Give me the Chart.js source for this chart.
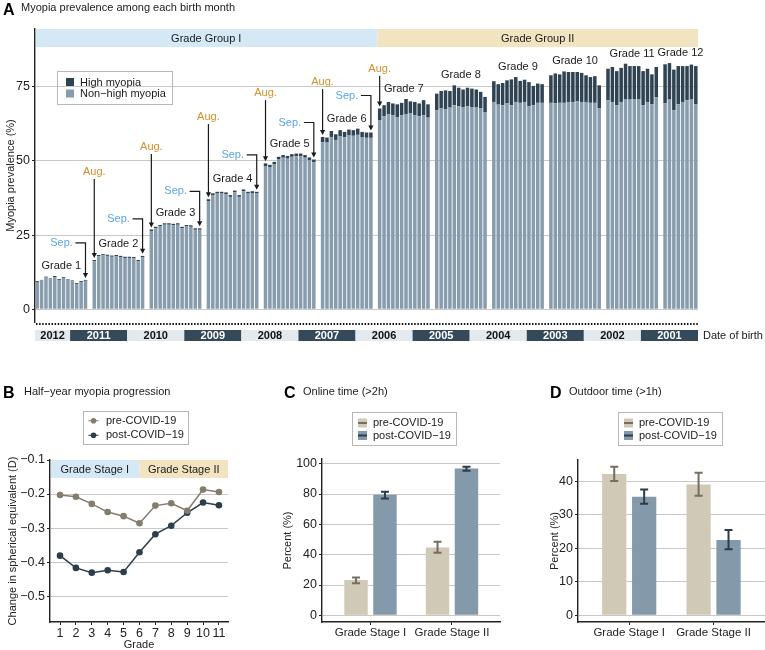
<!DOCTYPE html>
<html>
<head>
<meta charset="utf-8">
<title>Myopia prevalence</title>
<script src="https://cdn.jsdelivr.net/npm/chart.js@4.4.1/dist/chart.umd.min.js"></script>
<style>
  html, body { margin: 0; padding: 0; background: #fff; }
  #wrap { position: relative; width: 765px; height: 650px; overflow: hidden; }
  canvas { position: absolute; }
</style>
</head>
<body>
<div id="wrap">
  <canvas id="prevalence" width="765" height="352" style="left:0px;top:0px"></canvas>
  <canvas id="progression" width="255" height="298" style="left:0px;top:352px"></canvas>
  <canvas id="online" width="255" height="298" style="left:255px;top:352px"></canvas>
  <canvas id="outdoor" width="255" height="298" style="left:510px;top:352px"></canvas>
</div>
<script>
var FONT = "'Liberation Sans', Arial, Helvetica, sans-serif";
Chart.defaults.font.family = FONT;
Chart.defaults.color = "#222";

// ---- A: prevalence per birth month (each grade: Aug back to Sep of the year before) ----
var grades = ["Grade 1", "Grade 2", "Grade 3", "Grade 4", "Grade 5", "Grade 6",
              "Grade 7", "Grade 8", "Grade 9", "Grade 10", "Grade 11", "Grade 12"];
var birthYears = [2012, 2011, 2010, 2009, 2008, 2007, 2006, 2005, 2004, 2003, 2002, 2001];
var nonHighMyopia = [
    [9.2, 9.7, 10.7, 10.1, 10.8, 9.9, 10.5, 10.0, 9.4, 8.5, 9.2, 9.6],
    [16.2, 17.9, 18.2, 18.0, 17.7, 17.9, 17.6, 17.3, 17.3, 17.2, 16.2, 17.6],
    [26.4, 27.3, 27.9, 28.5, 28.5, 28.3, 28.5, 27.3, 27.9, 27.8, 26.8, 26.8],
    [36.5, 38.5, 39.0, 39.0, 38.8, 37.9, 39.4, 37.9, 39.8, 39.0, 39.2, 39.0],
    [48.3, 47.8, 48.8, 50.5, 51.1, 50.8, 51.4, 51.6, 51.6, 51.1, 50.3, 49.6],
    [56.3, 56.2, 58.1, 57.1, 58.4, 58.0, 58.6, 58.5, 58.8, 57.9, 57.8, 57.8],
    [63.7, 65.1, 65.7, 65.4, 64.8, 65.4, 65.7, 66.0, 65.4, 65.1, 65.4, 64.6],
    [67.1, 67.7, 67.4, 68.0, 68.8, 68.4, 68.2, 68.4, 68.2, 68.0, 67.7, 66.5],
    [69.9, 69.0, 68.8, 69.4, 68.8, 69.9, 69.6, 69.9, 68.5, 68.8, 69.6, 69.6],
    [69.6, 69.4, 69.6, 69.6, 69.9, 69.9, 70.1, 69.9, 69.9, 69.6, 69.6, 67.7],
    [70.5, 69.9, 68.8, 69.9, 70.7, 70.7, 70.9, 70.9, 68.8, 69.9, 69.1, 71.4],
    [69.4, 70.7, 67.1, 69.1, 69.9, 70.5, 70.7, 69.1]
];
var highMyopia = [
    [0.3, 0.2, 0.3, 0.3, 0.4, 0.3, 0.3, 0.2, 0.3, 0.3, 0.3, 0.3],
    [0.4, 0.4, 0.4, 0.4, 0.4, 0.4, 0.4, 0.4, 0.4, 0.4, 0.4, 0.4],
    [0.5, 0.5, 0.5, 0.5, 0.5, 0.5, 0.5, 0.5, 0.5, 0.5, 0.5, 0.5],
    [0.6, 0.6, 0.6, 0.6, 0.6, 0.6, 0.6, 0.6, 0.6, 0.6, 0.6, 0.6],
    [0.9, 0.9, 0.9, 0.9, 0.9, 0.9, 0.9, 0.9, 0.9, 0.9, 0.9, 0.9],
    [1.8, 1.7, 2.0, 1.9, 2.0, 1.8, 2.0, 1.9, 2.1, 1.9, 1.8, 1.8],
    [4.0, 3.7, 4.2, 4.0, 4.3, 4.2, 5.2, 4.1, 4.5, 4.3, 5.1, 4.5],
    [5.6, 5.9, 6.4, 5.6, 6.7, 6.3, 5.9, 6.3, 6.2, 6.1, 5.6, 5.1],
    [7.0, 6.9, 7.5, 7.8, 8.7, 8.4, 7.4, 7.5, 8.1, 6.5, 6.5, 6.3],
    [9.3, 10.1, 9.6, 10.6, 10.1, 10.1, 9.9, 9.8, 9.0, 8.7, 9.0, 7.8],
    [10.6, 11.8, 11.5, 11.5, 12.1, 11.3, 11.1, 11.1, 11.5, 11.2, 10.1, 10.3],
    [13.2, 12.3, 13.7, 12.9, 12.1, 11.5, 11.8, 12.9]
];
var prevalenceTicks = [0, 25, 50, 75];
// height (in %) where the "Aug." notes of grades 2-7 sit
var augNoteLevel = [46.3, 54.7, 64.8, 72.9, 76.6, 81.1];

// ---- B: half-year progression ----
var gradeNumbers = [1, 2, 3, 4, 5, 6, 7, 8, 9, 10, 11];
var preProgression = [-0.203, -0.208, -0.229, -0.253, -0.265, -0.286, -0.234, -0.227, -0.249, -0.187, -0.194];
var postProgression = [-0.381, -0.417, -0.431, -0.424, -0.429, -0.371, -0.318, -0.293, -0.255, -0.225, -0.233];
var progressionTicks = [-0.1, -0.2, -0.3, -0.4, -0.5];

// ---- C / D: online and outdoor time ----
var stageNames = ["Grade Stage I", "Grade Stage II"];
var stagePositions = [1, 2];
var onlinePre = [23.3, 44.8];
var onlinePreLow = [21.1, 41.3];
var onlinePreHigh = [25.0, 48.5];
var onlinePost = [79.5, 96.9];
var onlinePostLow = [77.1, 95.3];
var onlinePostHigh = [81.5, 98.0];
var outdoorPre = [42.2, 39.1];
var outdoorPreLow = [40.1, 35.7];
var outdoorPreHigh = [44.4, 42.6];
var outdoorPost = [35.4, 22.5];
var outdoorPostLow = [33.3, 19.7];
var outdoorPostHigh = [37.6, 25.5];

var LIGHT = "#879cad", DARK = "#2f4352", TAN = "#d0c9b5", BROWN = "#857d6c";
var GRID = "#c8c8c8", AXIS = "#222";

function label(ctx, str, x, y, size, opt) {
    opt = opt || {};
    ctx.save();
    ctx.font = (opt.bold ? "bold " : "") + size + "px " + FONT;
    ctx.fillStyle = opt.color || "#1a1a1a";
    ctx.textAlign = opt.align || "left";
    ctx.textBaseline = opt.baseline || "alphabetic";
    ctx.fillText(str, x, y);
    ctx.restore();
}

function arrowHead(ctx, x, y) {
    ctx.beginPath();
    ctx.moveTo(x, y);
    ctx.lineTo(x - 2.6, y - 5);
    ctx.lineTo(x + 2.6, y - 5);
    ctx.closePath();
    ctx.fill();
}

// slot layout for panel A: one slot per bar, one empty slot between grades
var slotLabels = [], lightData = [], darkData = [], slotYear = [], gradeStart = [];
grades.forEach(function (g, gi) {
    if (gi > 0) {
        slotLabels.push("gap" + gi);
        lightData.push(null);
        darkData.push(null);
        slotYear.push(null);
    }
    gradeStart.push(slotLabels.length);
    nonHighMyopia[gi].forEach(function (v, i) {
        slotLabels.push(g + "-" + i);
        lightData.push(v);
        darkData.push(highMyopia[gi][i]);
        slotYear.push(i < 8 ? birthYears[gi] : birthYears[gi] - 1);
    });
});

var prevalenceDecor = {
    id: "prevalenceDecor",
    beforeDatasetsDraw: function (chart) {
        var ctx = chart.ctx, a = chart.chartArea, x = chart.scales.x;
        var half = (x.getPixelForValue(1) - x.getPixelForValue(0)) / 2;
        var split = x.getPixelForValue(gradeStart[6]) - half;
        ctx.fillStyle = "#d5e8f6";
        ctx.fillRect(a.left + 1, a.top, split - a.left - 1, 18);
        ctx.fillStyle = "#f2e4c1";
        ctx.fillRect(split, a.top, a.right - split, 18);
        label(ctx, "Grade Group I", (a.left + split) / 2, a.top + 9.5, 11, {align: "center", baseline: "middle"});
        label(ctx, "Grade Group II", (split + a.right) / 2, a.top + 9.5, 11, {align: "center", baseline: "middle"});
    },
    afterDraw: function (chart) {
        var ctx = chart.ctx, a = chart.chartArea, x = chart.scales.x, y = chart.scales.y;
        var half = (x.getPixelForValue(1) - x.getPixelForValue(0)) / 2;
        function total(s) { return lightData[s] + darkData[s]; }

        label(ctx, "A", 3, 15, 16, {bold: true, color: "#000"});
        label(ctx, "Myopia prevalence among each birth month", 21, 11, 11);

        ctx.save();
        ctx.strokeStyle = "#1a1a1a";
        ctx.fillStyle = "#1a1a1a";
        ctx.lineWidth = 1.2;
        grades.forEach(function (g, gi) {
            var s0 = gradeStart[gi], s1 = s0 + nonHighMyopia[gi].length - 1;
            var top = 0;
            for (var s = s0; s <= s1; s++) top = Math.max(top, total(s));
            label(ctx, g, (x.getPixelForValue(s0) + x.getPixelForValue(s1)) / 2,
                  y.getPixelForValue(top) - 10, 11, {align: "center", baseline: "middle"});
            if (gi < 6) {
                // "Sep." points at the last bar of the grade
                var bx = x.getPixelForValue(s1), by = y.getPixelForValue(total(s1));
                var ty = by - 37;
                label(ctx, "Sep.", bx - 24, ty, 11, {align: "center", baseline: "middle", color: "#5aa5e8"});
                ctx.beginPath();
                ctx.moveTo(bx - 10, ty);
                ctx.lineTo(bx, ty);
                ctx.lineTo(bx, by - 4);
                ctx.stroke();
                arrowHead(ctx, bx, by - 2);
            }
            if (gi >= 1 && gi <= 6) {
                // "Aug." points at the first bar of the grade
                var ax = x.getPixelForValue(s0), ay = y.getPixelForValue(total(s0));
                var ly = y.getPixelForValue(augNoteLevel[gi - 1]);
                label(ctx, "Aug.", ax, ly, 11, {align: "center", baseline: "middle", color: "#d68f2a"});
                ctx.beginPath();
                ctx.moveTo(ax, ly + 7);
                ctx.lineTo(ax, ay - 4);
                ctx.stroke();
                arrowHead(ctx, ax, ay - 2);
            }
        });
        ctx.restore();

        // legend
        ctx.save();
        ctx.strokeStyle = "#b8b8b8";
        ctx.lineWidth = 1;
        ctx.strokeRect(57.5, 71.5, 115, 33);
        ctx.fillStyle = DARK;
        ctx.fillRect(66, 78, 8, 8);
        ctx.fillStyle = LIGHT;
        ctx.fillRect(66, 89.5, 8, 8);
        ctx.restore();
        label(ctx, "High myopia", 80, 82.5, 11, {baseline: "middle"});
        label(ctx, "Non\u2212high myopia", 80, 94, 11, {baseline: "middle"});

        // dotted separator and birth-year strip
        ctx.save();
        ctx.strokeStyle = "#111";
        ctx.lineWidth = 2;
        ctx.setLineDash([1.5, 1.6]);
        ctx.beginPath();
        ctx.moveTo(a.left + 1, a.bottom + 2);
        ctx.lineTo(a.right, a.bottom + 2);
        ctx.stroke();
        ctx.restore();
        birthYears.forEach(function (yr, k) {
            var first = slotYear.indexOf(yr), last = slotYear.lastIndexOf(yr);
            var x0 = x.getPixelForValue(first) - half, x1 = x.getPixelForValue(last) + half;
            ctx.fillStyle = k % 2 ? "#34495a" : "#e4e9ed";
            ctx.fillRect(x0, a.bottom + 8, x1 - x0, 11);
            label(ctx, String(yr), (x0 + x1) / 2, a.bottom + 14, 11,
                  {bold: true, align: "center", baseline: "middle", color: k % 2 ? "#fff" : "#111"});
        });
        label(ctx, "Date of birth", a.right + 5, a.bottom + 14, 11, {baseline: "middle"});
    }
};

new Chart(document.getElementById("prevalence"), {
    type: "bar",
    data: {
        labels: slotLabels,
        datasets: [
            {label: "Non\u2212high myopia", data: lightData, backgroundColor: LIGHT, barPercentage: 0.8, categoryPercentage: 1},
            {label: "High myopia", data: darkData, backgroundColor: DARK, barPercentage: 0.8, categoryPercentage: 1},
        ],
    },
    options: {
        responsive: false,
        animation: false,
        layout: {padding: {left: 0, right: 67, top: 29, bottom: 30}},
        plugins: {legend: {display: false}, tooltip: {enabled: false}},
        scales: {
            x: {stacked: true, display: false},
            y: {
                stacked: true,
                min: -4.3,
                max: 94.5,
                afterFit: function (s) { s.width = 35; },
                afterBuildTicks: function (s) { s.ticks = prevalenceTicks.map(function (v) { return {value: v}; }); },
                ticks: {font: {size: 12.5}, padding: 2, color: "#222"},
                grid: {color: GRID, tickColor: AXIS, tickLength: 3},
                border: {color: AXIS, width: 1.4},
                title: {display: true, text: "Myopia prevalence (%)", font: {size: 11}, padding: {top: 4, bottom: 0}},
            },
        },
    },
    plugins: [prevalenceDecor],
});

// ---- B ----
var progressionDecor = {
    id: "progressionDecor",
    beforeDatasetsDraw: function (chart) {
        var ctx = chart.ctx, a = chart.chartArea, x = chart.scales.x;
        var split = x.getPixelForValue(6);
        ctx.fillStyle = "#d5e8f6";
        ctx.fillRect(a.left + 1, a.top, split - a.left - 1, 18);
        ctx.fillStyle = "#f2e4c1";
        ctx.fillRect(split, a.top, a.right - split, 18);
        label(ctx, "Grade Stage I", (a.left + split) / 2, a.top + 9.5, 11, {align: "center", baseline: "middle"});
        label(ctx, "Grade Stage II", (split + a.right) / 2, a.top + 9.5, 11, {align: "center", baseline: "middle"});
    },
    afterDraw: function (chart) {
        var ctx = chart.ctx;
        label(ctx, "B", 3, 45.5, 16, {bold: true, color: "#000"});
        label(ctx, "Half\u2212year myopia progression", 24, 43, 11);
        ctx.save();
        ctx.strokeStyle = "#b8b8b8";
        ctx.lineWidth = 1;
        ctx.strokeRect(83.5, 59.5, 105, 33);
        chart.data.datasets.forEach(function (ds, i) {
            var ly = 68.7 + i * 14.6;
            ctx.strokeStyle = ds.borderColor;
            ctx.fillStyle = ds.borderColor;
            ctx.lineWidth = 1;
            ctx.beginPath();
            ctx.moveTo(88.5, ly);
            ctx.lineTo(98.5, ly);
            ctx.stroke();
            ctx.beginPath();
            ctx.arc(93.5, ly, 2.8, 0, Math.PI * 2);
            ctx.fill();
            label(ctx, ds.label, 106, ly, 11, {baseline: "middle"});
        });
        ctx.restore();
    }
};

new Chart(document.getElementById("progression"), {
    type: "line",
    data: {
        labels: gradeNumbers,
        datasets: [
            {label: "pre-COVID-19", data: preProgression, borderColor: BROWN, backgroundColor: BROWN,
             borderWidth: 1.5, pointRadius: 3.3, pointBorderWidth: 0},
            {label: "post-COVID\u221219", data: postProgression, borderColor: "#2c3e4c", backgroundColor: "#2c3e4c",
             borderWidth: 1.5, pointRadius: 3.3, pointBorderWidth: 0},
        ],
    },
    options: {
        responsive: false,
        animation: false,
        layout: {padding: {left: 0, right: 27, top: 108, bottom: 0}},
        plugins: {legend: {display: false}, tooltip: {enabled: false}},
        scales: {
            x: {
                type: "linear",
                min: 0.37,
                max: 11.57,
                afterFit: function (s) { s.height = 28; },
                afterBuildTicks: function (s) { s.ticks = gradeNumbers.map(function (v) { return {value: v}; }); },
                ticks: {font: {size: 12.5}, padding: 1, maxRotation: 0, autoSkip: false, color: "#222"},
                grid: {drawOnChartArea: false, tickColor: AXIS, tickLength: 3},
                border: {color: AXIS, width: 1.4},
                title: {display: true, text: "Grade", font: {size: 11, lineHeight: 1}, padding: {top: 0, bottom: 0}},
            },
            y: {
                min: -0.576,
                max: -0.1,
                afterFit: function (s) { s.width = 50; },
                afterBuildTicks: function (s) { s.ticks = progressionTicks.map(function (v) { return {value: v}; }); },
                ticks: {font: {size: 12.5}, padding: 2, color: "#222",
                        callback: function (v) { return v.toFixed(1).replace("-", "\u2212"); }},
                grid: {color: GRID, tickColor: AXIS, tickLength: 3},
                border: {color: AXIS, width: 1.4},
                title: {display: true, text: "Change in spherical equivalent (D)", font: {size: 11}, padding: {top: 6, bottom: 0}},
            },
        },
    },
    plugins: [progressionDecor],
});

// ---- C and D ----
var errorBars = {
    id: "errorBars",
    afterDatasetsDraw: function (chart) {
        var ctx = chart.ctx, y = chart.scales.y;
        chart.data.datasets.forEach(function (ds, i) {
            chart.getDatasetMeta(i).data.forEach(function (bar, j) {
                var lo = y.getPixelForValue(ds.errLow[j]), hi = y.getPixelForValue(ds.errHigh[j]);
                ctx.save();
                ctx.strokeStyle = ds.errColor;
                ctx.lineWidth = 2;
                ctx.beginPath();
                ctx.moveTo(bar.x, lo);
                ctx.lineTo(bar.x, hi);
                ctx.moveTo(bar.x - 4, lo);
                ctx.lineTo(bar.x + 4, lo);
                ctx.moveTo(bar.x - 4, hi);
                ctx.lineTo(bar.x + 4, hi);
                ctx.stroke();
                ctx.restore();
            });
        });
    }
};

function stageChart(id, cfg) {
    var decor = {
        id: "stageDecor",
        afterDraw: function (chart) {
            var ctx = chart.ctx, L = cfg.legendX;
            label(ctx, cfg.letter, cfg.letterX, 45.5, 16, {bold: true, color: "#000"});
            label(ctx, cfg.title, cfg.letterX + 19, 43, 11);
            ctx.save();
            ctx.strokeStyle = "#b8b8b8";
            ctx.lineWidth = 1;
            ctx.strokeRect(L + 0.5, 60.5, 104, 33);
            chart.data.datasets.forEach(function (ds, i) {
                var ly = 71 + i * 12.5;
                ctx.fillStyle = ds.backgroundColor;
                ctx.fillRect(L + 6, ly - 4.5, 9, 9);
                ctx.fillStyle = ds.errColor;
                ctx.fillRect(L + 6, ly - 1, 9, 2);
                label(ctx, ds.label, L + 21, ly, 11, {baseline: "middle"});
            });
            ctx.restore();
        }
    };
    return new Chart(document.getElementById(id), {
        type: "bar",
        data: {
            labels: stagePositions,
            datasets: [
                {label: "pre-COVID-19", data: cfg.pre, errLow: cfg.preLow, errHigh: cfg.preHigh,
                 backgroundColor: TAN, errColor: "#766e60", categoryPercentage: 0.71, barPercentage: 0.81},
                {label: "post-COVID\u221219", data: cfg.post, errLow: cfg.postLow, errHigh: cfg.postHigh,
                 backgroundColor: "#8499aa", errColor: "#2b3d4a", categoryPercentage: 0.71, barPercentage: 0.81},
            ],
        },
        options: {
            responsive: false,
            animation: false,
            layout: {padding: {left: 0, right: cfg.padRight, top: cfg.padTop, bottom: 0}},
            plugins: {legend: {display: false}, tooltip: {enabled: false}},
            scales: {
                x: {
                    type: "linear",
                    offset: false,
                    min: cfg.xMin,
                    max: cfg.xMax,
                    afterFit: function (s) { s.height = 28; },
                    afterBuildTicks: function (s) { s.ticks = stagePositions.map(function (v) { return {value: v}; }); },
                    ticks: {font: {size: 11.5}, padding: 1, maxRotation: 0, autoSkip: false, color: "#222",
                            callback: function (v) { return stageNames[v - 1]; }},
                    grid: {offset: false, drawOnChartArea: false, tickColor: AXIS, tickLength: 3},
                    border: {color: AXIS, width: 1.4},
                },
                y: {
                    min: cfg.yMin,
                    max: cfg.yMax,
                    afterFit: function (s) { s.width = cfg.axisX; },
                    afterBuildTicks: function (s) { s.ticks = cfg.yTicks.map(function (v) { return {value: v}; }); },
                    ticks: {font: {size: 12.5}, padding: 2, color: "#222"},
                    grid: {color: GRID, tickColor: AXIS, tickLength: 3},
                    border: {color: AXIS, width: 1.4},
                    title: {display: true, text: "Percent (%)", font: {size: 11}, padding: {top: cfg.titlePad, bottom: 0}},
                },
            },
        },
        plugins: [errorBars, decor],
    });
}

stageChart("online", {
    letter: "C", letterX: 29, title: "Online time (>2h)", legendX: 97,
    pre: onlinePre, preLow: onlinePreLow, preHigh: onlinePreHigh,
    post: onlinePost, postLow: onlinePostLow, postHigh: onlinePostHigh,
    xMin: 0.405, xMax: 2.589, yMin: -4.4, yMax: 103.1, yTicks: [0, 20, 40, 60, 80, 100],
    axisX: 67, padRight: 10, padTop: 107, titlePad: 26,
});

stageChart("outdoor", {
    letter: "D", letterX: 40, title: "Outdoor time (>1h)", legendX: 108,
    pre: outdoorPre, preLow: outdoorPreLow, preHigh: outdoorPreHigh,
    post: outdoorPost, postLow: outdoorPostLow, postHigh: outdoorPostHigh,
    xMin: 0.393, xMax: 2.61, yMin: -2.0, yMax: 46.4, yTicks: [0, 10, 20, 30, 40],
    axisX: 68, padRight: 0, padTop: 108, titlePad: 38,
});
</script>
</body>
</html>
